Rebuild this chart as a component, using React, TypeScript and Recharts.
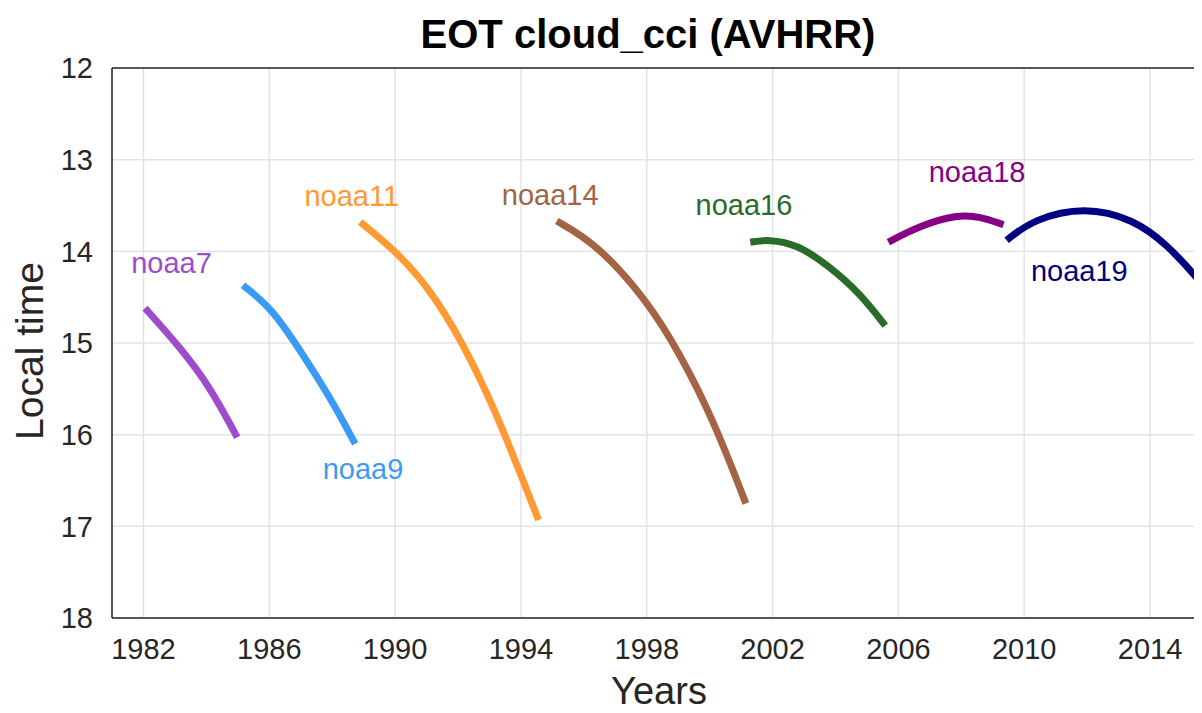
import React from 'react';
import { LineChart, Line, XAxis, YAxis, CartesianGrid, ReferenceDot } from 'recharts';

const yearTicks = [1982, 1986, 1990, 1994, 1998, 2002, 2006, 2010, 2014];
const timeTicks = [12, 13, 14, 15, 16, 17, 18];

const noaa7 = [
  { year: 1982.05, t: 14.62 },
  { year: 1983.17, t: 15.05 },
  { year: 1984.12, t: 15.48 },
  { year: 1984.98, t: 16.03 },
];
const noaa9 = [
  { year: 1985.16, t: 14.37 },
  { year: 1986.08, t: 14.62 },
  { year: 1986.98, t: 15.08 },
  { year: 1987.93, t: 15.59 },
  { year: 1988.73, t: 16.1 },
];
const noaa11 = [
  { year: 1988.89, t: 13.68 },
  { year: 1990.0, t: 13.99 },
  { year: 1991.11, t: 14.41 },
  { year: 1992.17, t: 15.01 },
  { year: 1993.13, t: 15.7 },
  { year: 1993.79, t: 16.26 },
  { year: 1994.56, t: 16.93 },
];
const noaa14 = [
  { year: 1995.14, t: 13.67 },
  { year: 1996.41, t: 13.92 },
  { year: 1998.0, t: 14.53 },
  { year: 1999.06, t: 15.12 },
  { year: 2000.12, t: 15.84 },
  { year: 2001.15, t: 16.75 },
];
const noaa16 = [
  { year: 2001.29, t: 13.9 },
  { year: 2001.87, t: 13.87 },
  { year: 2002.77, t: 13.92 },
  { year: 2003.83, t: 14.17 },
  { year: 2004.78, t: 14.46 },
  { year: 2005.58, t: 14.81 },
];
const noaa18 = [
  { year: 2005.68, t: 13.9 },
  { year: 2006.69, t: 13.72 },
  { year: 2007.86, t: 13.6 },
  { year: 2008.6, t: 13.62 },
  { year: 2009.34, t: 13.71 },
];
const noaa19 = [
  { year: 2009.44, t: 13.88 },
  { year: 2010.28, t: 13.65 },
  { year: 2011.93, t: 13.51 },
  { year: 2013.47, t: 13.65 },
  { year: 2014.53, t: 13.92 },
  { year: 2015.58, t: 14.32 },
  { year: 2016.0, t: 14.52 },
];

const series = [
  { name: 'noaa7', data: noaa7, color: '#9e4bcc', labelYear: 1982.89, labelTime: 14.12 },
  { name: 'noaa9', data: noaa9, color: '#3a9bf5', labelYear: 1988.98, labelTime: 16.37 },
  { name: 'noaa11', data: noaa11, color: '#ff9933', labelYear: 1988.62, labelTime: 13.39 },
  { name: 'noaa14', data: noaa14, color: '#a46343', labelYear: 1994.93, labelTime: 13.38 },
  { name: 'noaa16', data: noaa16, color: '#296b29', labelYear: 2001.09, labelTime: 13.49 },
  { name: 'noaa18', data: noaa18, color: '#850085', labelYear: 2008.5, labelTime: 13.13 },
  { name: 'noaa19', data: noaa19, color: '#000080', labelYear: 2011.75, labelTime: 14.21 },
];

const FONT = '"Liberation Sans", Arial, Helvetica, sans-serif';
const AX = '#262626';

const renderYLabel = () => (
  <text
    x={35}
    y={343}
    transform="rotate(-90 35 343)"
    textAnchor="middle"
    fontSize={39}
    fill={AX}
    fontFamily={FONT}
  >
    Local time
  </text>
);

const renderXLabel = () => (
  <text x={651} y={696} textAnchor="middle" fontSize={38} fill={AX} fontFamily={FONT}>
    Years
  </text>
);

export default function App() {
  return (
    <div
      style={{
        width: 1194,
        height: 705,
        overflow: 'hidden',
        position: 'relative',
        fontFamily: FONT,
        background: '#fff',
      }}
    >
      <LineChart
        width={1210}
        height={705}
        margin={{ top: 60, right: 5, bottom: 0, left: 0 }}
      >
        <CartesianGrid stroke="#e3e3e3" strokeWidth={1.5} />
        <XAxis
          type="number"
          dataKey="year"
          domain={[1981, 2016]}
          ticks={yearTicks}
          allowDataOverflow
          height={95}
          tickLine={false}
          tickSize={0}
          tickMargin={20}
          axisLine={{ stroke: AX, strokeWidth: 1.5 }}
          tick={{ fontSize: 29, fill: AX }}
          label={renderXLabel}
        />
        <XAxis
          xAxisId="bm"
          type="number"
          dataKey="year"
          domain={[1981, 2016]}
          ticks={yearTicks}
          allowDataOverflow
          mirror
          orientation="bottom"
          tick={false}
          tickSize={11}
          tickLine={{ stroke: AX, strokeWidth: 1.5 }}
          axisLine={false}
        />
        <XAxis
          xAxisId="tm"
          type="number"
          dataKey="year"
          domain={[1981, 2016]}
          ticks={yearTicks}
          allowDataOverflow
          mirror
          orientation="top"
          tick={false}
          tickSize={11}
          tickLine={{ stroke: AX, strokeWidth: 1.5 }}
          axisLine={{ stroke: AX, strokeWidth: 1.5 }}
        />
        <YAxis
          type="number"
          domain={[12, 18]}
          ticks={timeTicks}
          reversed
          allowDataOverflow
          width={104}
          tickLine={false}
          tickSize={0}
          tickMargin={19}
          axisLine={{ stroke: AX, strokeWidth: 1.5 }}
          tick={{ fontSize: 29, fill: AX }}
          label={renderYLabel}
        />
        <YAxis
          yAxisId="lm"
          type="number"
          domain={[12, 18]}
          ticks={timeTicks}
          reversed
          allowDataOverflow
          mirror
          orientation="left"
          tick={false}
          tickSize={11}
          tickLine={{ stroke: AX, strokeWidth: 1.5 }}
          axisLine={false}
        />
        {series.map((s) => (
          <Line
            key={s.name}
            data={s.data}
            dataKey="t"
            type="basis"
            stroke={s.color}
            strokeWidth={7}
            strokeLinecap="butt"
            dot={false}
            activeDot={false}
            isAnimationActive={false}
          />
        ))}
        {series.map((s) => (
          <ReferenceDot
            key={s.name + '-label'}
            x={s.labelYear}
            y={s.labelTime}
            r={0}
            fill="none"
            stroke="none"
            label={{ value: s.name, position: 'center', fill: s.color, fontSize: 29 }}
          />
        ))}
      </LineChart>
      <svg
        width={1194}
        height={60}
        style={{ position: 'absolute', left: 0, top: 0, pointerEvents: 'none' }}
      >
        <text
          x={640}
          y={40}
          textAnchor="middle"
          fontSize={40}
          fontWeight="bold"
          fill="#000"
          fontFamily={FONT}
        >
          EOT cloud_cci (AVHRR)
        </text>
      </svg>
    </div>
  );
}
